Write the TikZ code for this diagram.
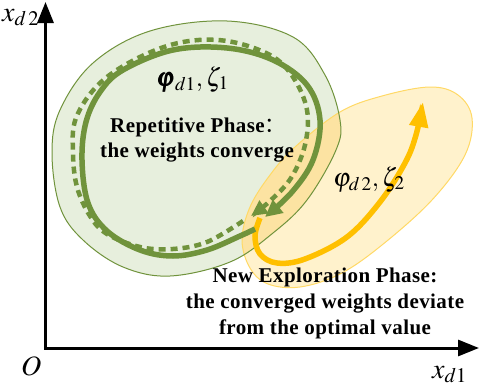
\documentclass[tikz,border=0pt]{standalone}
\usepackage{mathptmx}
\usepackage{amsmath}
\usepackage[no-math]{fontspec}
\setmainfont{Liberation Serif}
\newfontfamily\cjk{Noto Sans CJK SC}
\usetikzlibrary{arrows.meta}
\definecolor{gline}{HTML}{70933C}
\definecolor{gfill}{HTML}{E7EFDD}
\definecolor{yfill}{HTML}{FFF2CC}
\definecolor{yedge}{HTML}{FFD966}
\definecolor{yover}{HTML}{FCE3A2}
\definecolor{yline}{HTML}{FFC000}
\tikzset{
  axis/.style={line width=3pt, {Triangle[length=21pt,width=16pt]}-{Triangle[length=21pt,width=16pt]}},
  boldlbl/.style={inner sep=0pt, anchor=base, font=\fontsize{21}{25}\selectfont\bfseries\addfontfeature{LetterSpace=2}},
  mathlbl/.style={inner sep=0pt, anchor=base west, font=\fontsize{26}{30}\selectfont},
  axlbl/.style={inner sep=0pt, anchor=base west, font=\fontsize{28}{32}\selectfont},
  gsolid/.style={draw=gline, line width=5.5pt, -{Triangle[length=17pt,width=16pt]}},
  gdash/.style={draw=gline, line width=4.5pt, dash pattern=on 7pt off 5pt, -{Triangle[length=16pt,width=15pt]}},
  yarrow/.style={draw=yline, line width=5.5pt, -{Triangle[length=25pt,width=18pt]}}
}
\begin{document}
\begin{tikzpicture}[x=1pt,y=-1pt]
\useasboundingbox (0,0) rectangle (480,388);
% regions
\fill[gfill] plot[smooth cycle, tension=0.6] coordinates {(52,153) (60,110) (93,63) (150,31) (227,21) (293,37) (325,75) (340,120) (336,150) (307,200) (273,233) (230,262) (170,276) (123,267) (83,240) (60,207)};
\fill[yfill] plot[smooth cycle, tension=0.6] coordinates {(242,240) (250,207) (270,175) (295,147) (340,112) (382,96) (430,87) (458,95) (472,118) (465,155) (432,200) (382,245) (340,274) (300,287) (268,284) (250,268)};
\begin{scope}
\clip plot[smooth cycle, tension=0.6] coordinates {(52,153) (60,110) (93,63) (150,31) (227,21) (293,37) (325,75) (340,120) (336,150) (307,200) (273,233) (230,262) (170,276) (123,267) (83,240) (60,207)};
\fill[yover] plot[smooth cycle, tension=0.6] coordinates {(242,240) (250,207) (270,175) (295,147) (340,112) (382,96) (430,87) (458,95) (472,118) (465,155) (432,200) (382,245) (340,274) (300,287) (268,284) (250,268)};
\end{scope}
\draw[yedge, line width=1pt] plot[smooth cycle, tension=0.6] coordinates {(242,240) (250,207) (270,175) (295,147) (340,112) (382,96) (430,87) (458,95) (472,118) (465,155) (432,200) (382,245) (340,274) (300,287) (268,284) (250,268)};
\draw[gline, line width=1pt] plot[smooth cycle, tension=0.6] coordinates {(52,153) (60,110) (93,63) (150,31) (227,21) (293,37) (325,75) (340,120) (336,150) (307,200) (273,233) (230,262) (170,276) (123,267) (83,240) (60,207)};
% trajectories
\draw[yarrow] plot[smooth, tension=0.6] coordinates {(260,218) (255,236) (260,254) (277,263) (305,259) (347,237) (380,202) (405,163) (416,135) (423,102)};
\draw[gdash] plot[smooth, tension=0.6] coordinates {(243,221) (207,242) (173,249) (140,247) (107,234) (90,216) (77,187) (73,153) (76,118) (100,83) (140,57) (183,42) (227,41) (270,55) (293,77) (307,110) (305,145) (291,178) (270,201) (251,216)};
\draw[gsolid] plot[smooth, tension=0.6] coordinates {(255,229) (240,236) (207,250) (173,256) (140,250) (107,231) (88,203) (82,160) (86,122) (100,92) (123,70) (173,50) (227,48) (273,60) (307,85) (320,120) (313,160) (292,192) (265,217)};
% axes
\coordinate (xend) at (479,348);
\coordinate (origin) at (45.5,348);
\coordinate (yend) at (45.5,2);
\draw[axis] (xend) -- (origin) -- (yend);
\node[axlbl] (lx2) at (2,21) {$x_{d\,2}$};
\node[axlbl] (lx1) at (432,378) {$x_{d1}$};
\node[axlbl] (lo) at (21,375) {$O$};
% labels
\node[mathlbl] (p1) at (157,86) {$\pmb{\varphi}_{d1},\zeta_1$};
\node[mathlbl] (p2) at (333,186) {$\varphi_{d\,2},\zeta_2$};
\node[boldlbl] (r1) at (198,132) {Repetitive Phase{\mdseries\cjk ：}};
\node[boldlbl] (r2) at (197,157) {the weights converge};
\node[boldlbl] (e1) at (325,282) {New Exploration Phase:};
\node[boldlbl] (e2) at (325,308) {the converged weights deviate};
\node[boldlbl] (e3) at (325,334) {from the optimal value};
\end{tikzpicture}
\end{document}
